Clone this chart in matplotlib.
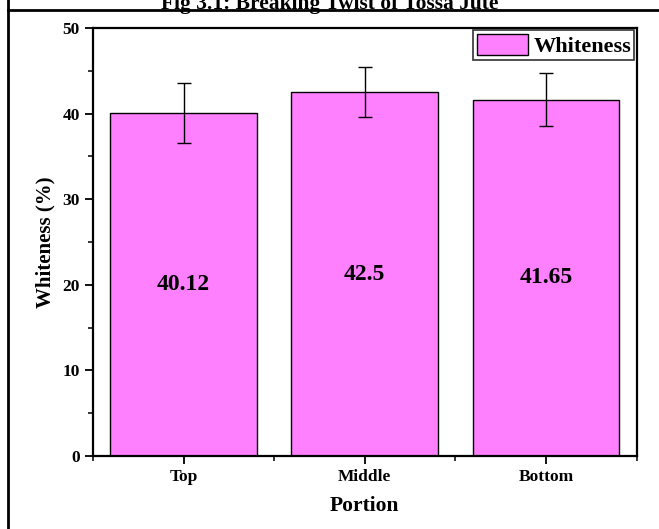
import matplotlib
matplotlib.use('Agg')
import matplotlib.pyplot as plt
from matplotlib import rcParams
from matplotlib.lines import Line2D
from matplotlib.ticker import MultipleLocator, FixedLocator

rcParams['font.family'] = 'Liberation Serif'
rcParams['font.weight'] = 'bold'

portions = ['Top', 'Middle', 'Bottom']
whiteness = [40.12, 42.5, 41.65]
errors = [3.5, 2.9, 3.1]
bar_labels = ['40.12', '42.5', '41.65']

fig = plt.figure(figsize=(6.59, 5.29), dpi=100)
ax = fig.add_axes([0.141, 0.138, 0.825, 0.809])

x = list(range(len(portions)))
ax.bar(x, whiteness, width=0.81, color='#FF80FF', edgecolor='black',
       linewidth=1.0, label='Whiteness')
ax.errorbar(x, whiteness, yerr=errors, fmt='none', ecolor='black',
            elinewidth=1.0, capsize=5, capthick=1.0)

for xi, v, lab in zip(x, whiteness, bar_labels):
    ax.text(xi, v / 2, lab, ha='center', va='center', fontsize=17,
            fontweight='bold')

ax.set_xlim(-0.5, 2.5)
ax.set_ylim(0, 50)
ax.set_xticks(x)
ax.set_xticklabels(portions, fontsize=12.5, fontweight='bold')
ax.xaxis.set_minor_locator(FixedLocator([-0.5, 0.5, 1.5, 2.5]))
ax.yaxis.set_major_locator(MultipleLocator(10))
ax.yaxis.set_minor_locator(MultipleLocator(5))
ax.tick_params(axis='both', which='major', direction='out', length=6,
               width=1.3, labelsize=12.5)
ax.tick_params(axis='both', which='minor', direction='out', length=3.5,
               width=1.1)
ax.tick_params(axis='x', which='both', top=False)
ax.tick_params(axis='y', which='both', right=False)
for lab in ax.get_yticklabels():
    lab.set_fontweight('bold')
for s in ax.spines.values():
    s.set_linewidth(1.6)

ax.set_xlabel('Portion', fontsize=15.5, fontweight='bold', labelpad=8)
ax.set_ylabel('Whiteness (%)', fontsize=15, fontweight='bold', labelpad=5)

leg = ax.legend(loc='upper right', borderaxespad=0.1, fancybox=False,
                frameon=True, prop={'weight': 'bold', 'size': 16},
                handlelength=2.3, handleheight=1.1, borderpad=0.15,
                handletextpad=0.25)
leg.get_frame().set_edgecolor('black')
leg.get_frame().set_linewidth(1.2)

# page frame around the figure
fig.text(0.5, 1 - 9 / 529, 'Fig 3.1: Breaking Twist of Tossa Jute',
         ha='center', va='baseline', fontsize=15.5, fontweight='bold')
fig.add_artist(Line2D([8 / 659, 1.0], [1 - 10 / 529, 1 - 10 / 529],
                      transform=fig.transFigure, color='black', linewidth=2))
fig.add_artist(Line2D([8 / 659, 8 / 659], [0, 1],
                      transform=fig.transFigure, color='black', linewidth=2))

fig.savefig('out.png', dpi=100, facecolor='white')
